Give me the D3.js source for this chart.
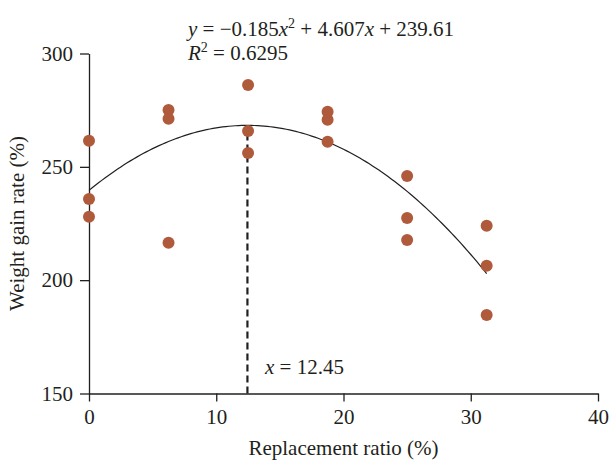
<!DOCTYPE html>
<html>
<head>
<meta charset="utf-8">
<title>Weight gain rate vs replacement ratio</title>
<script src="https://d3js.org/d3.v7.min.js"></script>
<style>
  body { margin: 0; background: #fff; }
  text { font-family: "Liberation Serif", "DejaVu Serif", serif; fill: #231f20; }
  .axis path, .axis line { stroke: #231f20; stroke-width: 1.3px; }
</style>
</head>
<body>
<div id="chart"></div>
<script>
// replacement ratio (%) of each group, and the three observed values per group
var ratios = [0, 6.25, 12.5, 18.75, 25, 31.25];
var gains = [
  [261.5, 235.8, 228.0],
  [275.1, 271.2, 216.5],
  [286.1, 265.8, 256.1],
  [274.3, 270.8, 261.1],
  [246.0, 227.4, 217.7],
  [224.0, 206.4, 184.6]
];
// quadratic fit y = a x^2 + b x + c
var coef = [-0.185, 4.607, 239.61];
var xPeak = 12.45;
var xTicks = [0, 10, 20, 30, 40];
var yTicks = [150, 200, 250, 300];

var width = 609, height = 461;
var margin = {left: 89, right: 11, top: 53.5, bottom: 67.5};
var fs = 21;

var svg = d3.select("#chart").append("svg")
  .attr("width", width).attr("height", height);

var x = d3.scaleLinear().domain([0, 40]).range([margin.left, width - margin.right]);
var y = d3.scaleLinear().domain([150, 300]).range([height - margin.bottom, margin.top]);

var fit = function(v) { return coef[0] * v * v + coef[1] * v + coef[2]; };

//axes
svg.append("g").attr("class", "axis")
  .attr("transform", "translate(0," + y(150) + ")")
  .call(d3.axisBottom(x).tickValues(xTicks).tickSizeInner(8).tickSizeOuter(0).tickPadding(8))
  .call(function(g) { g.selectAll("text").attr("font-size", fs).attr("fill", "#231f20"); });

svg.append("g").attr("class", "axis")
  .attr("transform", "translate(" + x(0) + ",0)")
  .call(d3.axisLeft(y).tickValues(yTicks).tickSizeInner(9).tickSizeOuter(0).tickPadding(7))
  .call(function(g) { g.selectAll("text").attr("font-size", fs).attr("fill", "#231f20"); });

svg.selectAll(".axis .domain").attr("stroke", "#231f20");

//fitted curve
var xs = d3.range(0, ratios[ratios.length - 1] + 0.01, 0.25);
svg.append("path")
  .datum(xs)
  .attr("fill", "none")
  .attr("stroke", "#231f20")
  .attr("stroke-width", 1.2)
  .attr("d", d3.line().x(function(d) { return x(d); }).y(function(d) { return y(fit(d)); }));

//vertical line at the peak
svg.append("line")
  .attr("x1", x(xPeak)).attr("x2", x(xPeak))
  .attr("y1", y(150)).attr("y2", y(fit(xPeak)))
  .attr("stroke", "#231f20").attr("stroke-width", 2.2)
  .attr("stroke-dasharray", "7,4");

//points
var pts = [];
ratios.forEach(function(r, i) { gains[i].forEach(function(g) { pts.push([r, g]); }); });
svg.selectAll(".pt").data(pts).enter().append("circle")
  .attr("class", "pt")
  .attr("cx", function(d) { return x(d[0]); })
  .attr("cy", function(d) { return y(d[1]); })
  .attr("r", 6)
  .attr("fill", "#b05a3c");

//labels
var eq = svg.append("text").attr("x", 188).attr("y", 36).attr("font-size", fs);
eq.append("tspan").attr("font-style", "italic").text("y");
eq.append("tspan").text(" = \u22120.185");
eq.append("tspan").attr("font-style", "italic").text("x");
eq.append("tspan").attr("font-size", 14).attr("dy", -8).text("2");
eq.append("tspan").attr("dy", 8).text(" + 4.607");
eq.append("tspan").attr("font-style", "italic").text("x");
eq.append("tspan").text(" + 239.61");

var r2 = svg.append("text").attr("x", 188).attr("y", 60).attr("font-size", fs);
r2.append("tspan").attr("font-style", "italic").text("R");
r2.append("tspan").attr("font-size", 14).attr("dy", -8).text("2");
r2.append("tspan").attr("dy", 8).text(" = 0.6295");

var xl = svg.append("text").attr("x", 265).attr("y", 374).attr("font-size", fs);
xl.append("tspan").attr("font-style", "italic").text("x");
xl.append("tspan").text(" = " + xPeak);

svg.append("text")
  .attr("x", (x(0) + x(40)) / 2).attr("y", 455)
  .attr("text-anchor", "middle").attr("font-size", fs)
  .text("Replacement ratio (%)");

svg.append("text")
  .attr("transform", "translate(24," + y(225) + ")rotate(-90)")
  .attr("text-anchor", "middle").attr("font-size", fs)
  .text("Weight gain rate (%)");
</script>
</body>
</html>
